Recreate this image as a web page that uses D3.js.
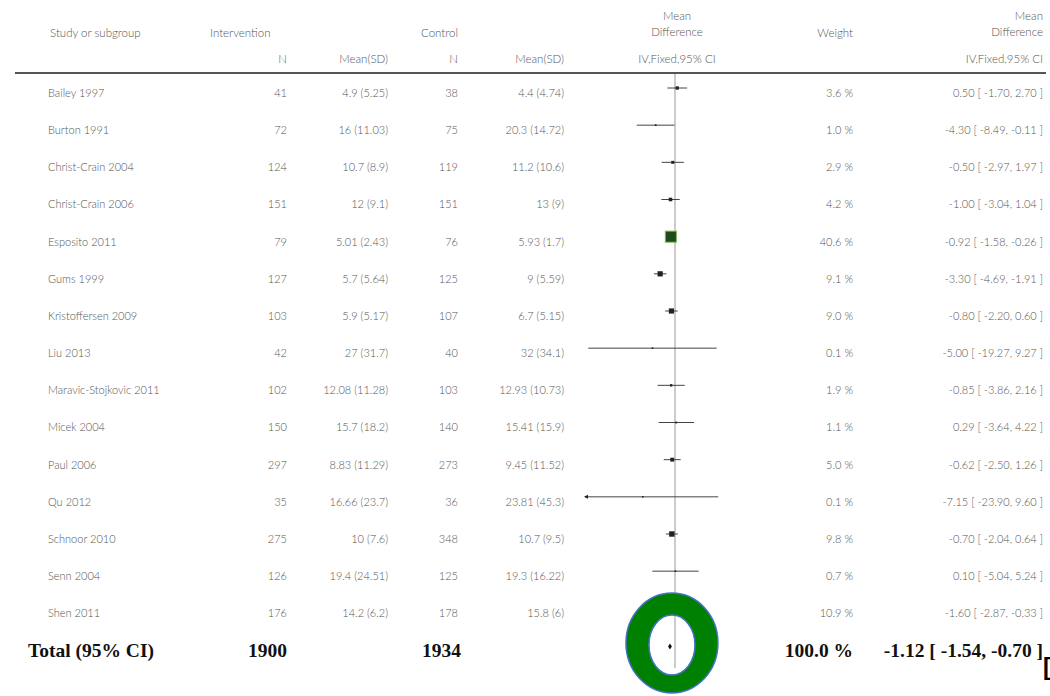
<!DOCTYPE html>
<html>
<head>
<meta charset="utf-8">
<script src="https://cdn.jsdelivr.net/npm/d3@7"></script>
<style>
  html, body { margin: 0; padding: 0; background: #fff; }
  svg { display: block; }
  .cell { font-family: "Lato", "Open Sans", sans-serif; font-weight: 300; font-size: 11px; fill: #555; }
  .head { font-family: "Lato", "Open Sans", sans-serif; font-weight: 300; font-size: 11.5px; fill: #555; }
  .total { font-family: "Liberation Serif", "Times New Roman", serif; font-weight: bold; font-size: 19.5px; fill: #111; }
</style>
</head>
<body>
<svg id="chart" width="1050" height="696"></svg>
<script>
// Studies in the meta-analysis
const studies = [
  "Bailey 1997", "Burton 1991", "Christ-Crain 2004", "Christ-Crain 2006", "Esposito 2011",
  "Gums 1999", "Kristoffersen 2009", "Liu 2013", "Maravic-Stojkovic 2011", "Micek 2004",
  "Paul 2006", "Qu 2012", "Schnoor 2010", "Senn 2004", "Shen 2011"
];
const intN = [41, 72, 124, 151, 79, 127, 103, 42, 102, 150, 297, 35, 275, 126, 176];
const intMeanSD = ["4.9 (5.25)", "16 (11.03)", "10.7 (8.9)", "12 (9.1)", "5.01 (2.43)", "5.7 (5.64)",
  "5.9 (5.17)", "27 (31.7)", "12.08 (11.28)", "15.7 (18.2)", "8.83 (11.29)", "16.66 (23.7)",
  "10 (7.6)", "19.4 (24.51)", "14.2 (6.2)"];
const ctrlN = [38, 75, 119, 151, 76, 125, 107, 40, 103, 140, 273, 36, 348, 125, 178];
const ctrlMeanSD = ["4.4 (4.74)", "20.3 (14.72)", "11.2 (10.6)", "13 (9)", "5.93 (1.7)", "9 (5.59)",
  "6.7 (5.15)", "32 (34.1)", "12.93 (10.73)", "15.41 (15.9)", "9.45 (11.52)", "23.81 (45.3)",
  "10.7 (9.5)", "19.3 (16.22)", "15.8 (6)"];
const weight = [3.6, 1.0, 2.9, 4.2, 40.6, 9.1, 9.0, 0.1, 1.9, 1.1, 5.0, 0.1, 9.8, 0.7, 10.9];
const meanDiff = [0.50, -4.30, -0.50, -1.00, -0.92, -3.30, -0.80, -5.00, -0.85, 0.29, -0.62, -7.15, -0.70, 0.10, -1.60];
const ciLow = [-1.70, -8.49, -2.97, -3.04, -1.58, -4.69, -2.20, -19.27, -3.86, -3.64, -2.50, -23.90, -2.04, -5.04, -2.87];
const ciHigh = [2.70, -0.11, 1.97, 1.04, -0.26, -1.91, 0.60, 9.27, 2.16, 4.22, 1.26, 9.60, 0.64, 5.24, -0.33];

// Pooled estimate
const totalLabel = "Total (95% CI)";
const totalIntN = 1900;
const totalCtrlN = 1934;
const totalWeight = 100.0;
const totalMD = -1.12, totalLow = -1.54, totalHigh = -0.70;

// Column headings
const headTop = ["Mean"];
const headMid = ["Study or subgroup", "Intervention", "Control", "Difference", "Weight"];
const headSub = ["N", "Mean(SD)", "N", "Mean(SD)", "IV,Fixed,95% CI"];

const svg = d3.select("#chart");

// scales
const x = d3.scaleLinear().domain([-20, 20]).range([585, 765]);
const rows = studies.concat([totalLabel]);
const y = d3.scalePoint().domain(rows).range([93, 650.5]);

const col = { name: 48, intN: 287, intM: 388, ctrlN: 458, ctrlM: 564, weight: 853, ci: 1043 };
const f2 = v => v.toFixed(2);
const ciText = (m, l, h) => `${f2(m)} [ ${f2(l)}, ${f2(h)} ]`;

// header
const hdr = svg.append("g");
const head = (txt, xp, yp, anchor) => hdr.append("text").attr("class", "head")
  .attr("x", xp).attr("y", yp).attr("text-anchor", anchor).text(txt);
head(headMid[0], 50, 37, "start");
head(headMid[1], 210, 37, "start");
head(headMid[2], col.ctrlN, 37, "end");
head(headTop[0], 677, 20, "middle");
head(headMid[3], 677, 36, "middle");
head(headMid[4], col.weight, 37, "end");
head(headTop[0], col.ci, 20, "end");
head(headMid[3], col.ci, 36, "end");
head(headSub[0], col.intN, 63, "end");
head(headSub[1], col.intM, 63, "end");
head(headSub[2], col.ctrlN, 63, "end");
head(headSub[3], col.ctrlM, 63, "end");
head(headSub[4], 677, 63, "middle");
head(headSub[4], col.ci, 63, "end");

svg.append("line").attr("x1", 15).attr("x2", 1046).attr("y1", 73).attr("y2", 73)
  .attr("stroke", "#555").attr("stroke-width", 2.2);

// line of no effect
svg.append("line").attr("x1", x(0)).attr("x2", x(0)).attr("y1", 74).attr("y2", 668)
  .attr("stroke", "#999").attr("stroke-width", 1);

// study rows
const data = studies.map((s, i) => ({
  s, n1: intN[i], m1: intMeanSD[i], n2: ctrlN[i], m2: ctrlMeanSD[i],
  w: weight[i], md: meanDiff[i], lo: ciLow[i], hi: ciHigh[i]
}));

const row = svg.append("g").selectAll("g").data(data).join("g")
  .attr("transform", d => `translate(0,${y(d.s)})`);
const cellText = (sel, xpos, anchor, fn) => sel.append("text").attr("class", "cell")
  .attr("x", xpos).attr("dy", "0.35em").attr("text-anchor", anchor).text(fn);
cellText(row, col.name, "start", d => d.s);
cellText(row, col.intN, "end", d => d.n1);
cellText(row, col.intM, "end", d => d.m1);
cellText(row, col.ctrlN, "end", d => d.n2);
cellText(row, col.ctrlM, "end", d => d.m2);
cellText(row, col.weight, "end", d => d.w.toFixed(1) + " %");
cellText(row, col.ci, "end", d => ciText(d.md, d.lo, d.hi));

// confidence intervals, clipped to the axis range
const [dmin, dmax] = x.domain();
const mk = -5;
row.append("line")
  .attr("x1", d => x(Math.max(d.lo, dmin))).attr("x2", d => x(Math.min(d.hi, dmax)))
  .attr("y1", mk).attr("y2", mk).attr("stroke", "#444").attr("stroke-width", 1);
row.filter(d => d.lo < dmin).append("path")
  .attr("d", `M${x(dmin) - 1},${mk} l4,-2 l0,4 z`).attr("fill", "#222");

const side = d => Math.max(1.6, 1.73 * Math.sqrt(d.w));
row.append("rect")
  .attr("x", d => x(d.md) - side(d) / 2).attr("y", d => mk - side(d) / 2)
  .attr("width", side).attr("height", side)
  .attr("fill", d => d.s === "Esposito 2011" ? "#1f4a19" : "#222")
  .attr("stroke", d => d.s === "Esposito 2011" ? "#78b84e" : "none")
  .attr("stroke-width", 1);

// totals
const ty = y(totalLabel);
const total = (txt, xp, anchor) => svg.append("text").attr("class", "total")
  .attr("x", xp).attr("y", ty).attr("dy", "0.35em").attr("text-anchor", anchor).text(txt);
total(totalLabel, 28, "start");
total(totalIntN, col.intN, "end");
total(totalCtrlN, 461, "end");
total(totalWeight.toFixed(1) + " %", col.weight, "end");
total(ciText(totalMD, totalLow, totalHigh), col.ci, "end");

// pooled diamond
const dy0 = ty - 4;
svg.append("path")
  .attr("d", `M${x(totalLow)},${dy0} L${x(totalMD)},${dy0 - 3} L${x(totalHigh)},${dy0} L${x(totalMD)},${dy0 + 3} Z`)
  .attr("fill", "#111");

// highlight ring around the pooled estimate
const cx = x(totalMD) + 2;
const ringD = (ex, ey, rx, ry) =>
  `M${ex + rx},${ey} A${rx},${ry} 0 1,0 ${ex - rx},${ey} A${rx},${ry} 0 1,0 ${ex + rx},${ey} Z`;
svg.append("path")
  .attr("d", ringD(cx, 643, 46, 50) + ringD(cx, 645, 23, 30))
  .attr("fill", "#008000").attr("fill-rule", "evenodd")
  .attr("stroke", "#4472c4").attr("stroke-width", 1.5);

// bracket at the lower right
svg.append("text").attr("x", 1043).attr("y", 675)
  .attr("font-family", "Liberation Sans, Arial, sans-serif").attr("font-weight", "bold")
  .attr("font-size", 24).attr("fill", "#000").text("[");
</script>
</body>
</html>
